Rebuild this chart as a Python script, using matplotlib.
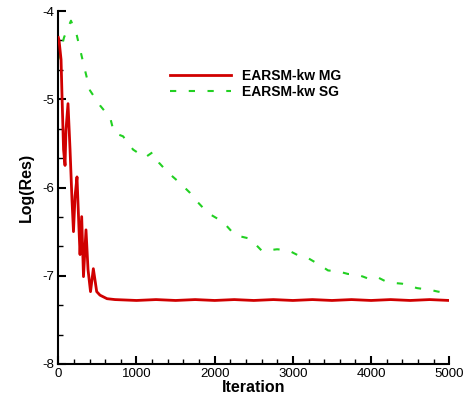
import matplotlib
matplotlib.use("Agg")
import matplotlib.pyplot as plt
from matplotlib.ticker import MultipleLocator

plt.rcParams['font.family'] = ['Liberation Sans', 'DejaVu Sans']
plt.rcParams['axes.unicode_minus'] = False

# MG series (iteration, log residual)
mg_iter = [0, 9, 35, 47, 67, 86, 98, 124, 150, 175, 194, 214, 239, 265, 278, 299,
           322, 354, 380, 412, 448, 491, 533, 623, 725, 1000, 1250, 1500, 1750,
           2000, 2250, 2500, 2750, 3000, 3250, 3500, 3750, 4000, 4250, 4500,
           4750, 5000]
mg_res = [-4.30, -4.33, -4.55, -4.95, -5.57, -5.75, -5.35, -5.05, -5.57, -6.14,
          -6.50, -6.10, -5.88, -6.48, -6.76, -6.33, -7.01, -6.48, -6.93, -7.18,
          -6.92, -7.18, -7.22, -7.26, -7.27, -7.28, -7.27, -7.28, -7.27, -7.28,
          -7.27, -7.28, -7.27, -7.28, -7.27, -7.28, -7.27, -7.28, -7.27, -7.28,
          -7.27, -7.28]

# SG series
sg_iter = [0, 22, 73, 162, 235, 341, 405, 533, 636, 661, 712, 828, 956, 1109,
           1207, 1288, 1403, 1557, 1684, 1787, 1915, 2107, 2260, 2452, 2606,
           2798, 2938, 3092, 3194, 3348, 3450, 3578, 3706, 3795, 3898, 3987,
           4090, 4179, 4269, 4397, 4473, 4588, 4755, 4857, 5000]
sg_res = [-4.55, -4.48, -4.30, -4.11, -4.27, -4.67, -4.90, -5.07, -5.18, -5.20,
          -5.38, -5.42, -5.57, -5.66, -5.60, -5.72, -5.83, -5.95, -6.06, -6.17,
          -6.29, -6.39, -6.54, -6.58, -6.72, -6.70, -6.71, -6.78, -6.80, -6.88,
          -6.94, -6.95, -6.98, -6.98, -7.01, -7.04, -7.02, -7.06, -7.08, -7.09,
          -7.11, -7.14, -7.16, -7.18, -7.20]

labels = ['EARSM-kw MG', 'EARSM-kw SG']

fig = plt.figure(figsize=(4.71, 4.00), dpi=100)
ax = fig.add_axes([0.1238, 0.09, 0.830, 0.8825])

ax.plot(mg_iter, mg_res, color='#d00000', lw=2.0, label=labels[0], zorder=3)
ax.plot(sg_iter, sg_res, color='#22d022', lw=1.5, dashes=(3, 6), label=labels[1], zorder=2)

ax.set_xlim(0, 5000)
ax.set_ylim(-8, -4)
ax.xaxis.set_major_locator(MultipleLocator(1000))
ax.xaxis.set_minor_locator(MultipleLocator(200))
ax.yaxis.set_major_locator(MultipleLocator(1))
ax.yaxis.set_minor_locator(MultipleLocator(1/3))

for s in ['top', 'right']:
    ax.spines[s].set_visible(False)
for s in ['left', 'bottom']:
    ax.spines[s].set_linewidth(1.5)

ax.tick_params(which='major', direction='in', length=6, width=1.5, labelsize=9.5, pad=3)
ax.tick_params(which='minor', direction='in', length=3.5, width=1.0)

ax.set_xlabel('Iteration', fontsize=11.5, fontweight='bold', labelpad=0)
ax.set_ylabel('Log(Res)', fontsize=11.5, fontweight='bold', labelpad=6)

leg = ax.legend(loc='upper left', bbox_to_anchor=(170/471, 1 - 69/400),
                bbox_transform=fig.transFigure, frameon=False,
                prop={'weight': 'bold', 'size': 10}, handlelength=4.4,
                handletextpad=0.8, borderpad=0, borderaxespad=0, labelspacing=0.15)

fig.savefig('out.png', dpi=100)
